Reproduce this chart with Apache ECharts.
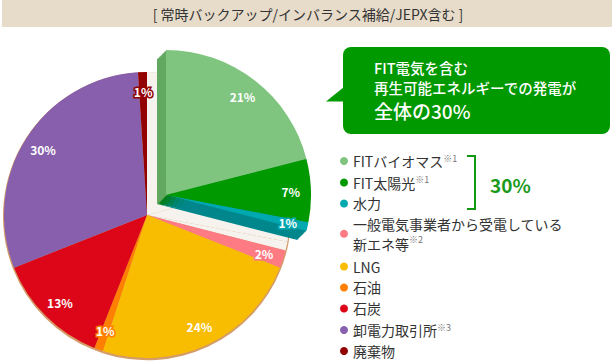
<!DOCTYPE html>
<html><head><meta charset="utf-8">
<script src="https://cdn.jsdelivr.net/npm/echarts@6/dist/echarts.min.js"></script>
<style>html,body{margin:0;padding:0;background:#fff}#c{width:612px;height:362px}</style>
</head><body><div id="c"></div>
<script>
const categories = ['FITバイオマス','FIT太陽光','水力','一般電気事業者から受電している\n新エネ等','LNG','石油','石炭','卸電力取引所','廃棄物'];
const shares = [21, 7, 1, 2, 24, 1, 13, 30, 1];
const footnotes = ['※1','※1','','※2','','','','※3',''];
const explodedCount = 3;
const faceColors = ['#7fc57f','#009900','#00a8b0','#ff7b84','#f8bc00','#ff7f00','#dc0618','#875fac','#920000'];
const sideColors = ['#62a862','#007d00','#00878c'];
const headerText = '[ 常時バックアップ/インバランス補給/JEPX含む ]';
const calloutLines = ['FIT電気を含む','再生可能エネルギーでの発電が','全体の30%'];
const bracketText = '30%';

const FONT = '"Noto Sans CJK JP","Noto Sans",sans-serif';
const CREAM = '#f6f3ee';
const mainC = [147,215], mainR = 143;
const frontC = [166,195], backC = [157,204], expR = 145;

function pieBase(center, radius, extra){
  return Object.assign({
    type:'pie', center:center, radius:radius, startAngle:90, clockwise:true,
    silent:true, animation:false, label:{show:false}, labelLine:{show:false},
    emphasis:{disabled:true}, itemStyle:{borderWidth:0}
  }, extra||{});
}
const isExp = i => i < explodedCount;
const series = [];
series.push(pieBase([147,216.2], mainR+1, {
  data: shares.map((v,i)=>({name:categories[i], value:v, itemStyle:{color:'#d49c68'}}))
}));
series.push(pieBase(mainC, mainR, {
  data: shares.map((v,i)=>({name:categories[i], value:v, itemStyle:{color: isExp(i)?CREAM:faceColors[i]}}))
}));
const N = 10;
for(let t=0;t<N;t++){
  const cx = backC[0] + (frontC[0]-backC[0])*t/N;
  const cy = backC[1] + (frontC[1]-backC[1])*t/N;
  series.push(pieBase([cx,cy], expR, {
    data: shares.map((v,i)=>({name:categories[i], value:v, itemStyle:{color: isExp(i)?sideColors[i]:'transparent'}}))
  }));
}
series.push(pieBase(frontC, expR, {
  data: shares.map((v,i)=>({name:categories[i], value:v, itemStyle:{color: isExp(i)?faceColors[i]:'transparent'}}))
}));
function labelRing(center, r, showFn){
  return pieBase(center, [r*0.68, r], {
    z: 5,
    data: shares.map((v,i)=>({name:categories[i], value:v,
      itemStyle:{color:'transparent'},
      label:{show: showFn(i), position:'inside', formatter: v+'%', color:'#fff', fontSize:12, fontWeight:'bold',
             fontFamily:FONT, textBorderColor: faceColors[i], textBorderWidth:3}}))
  });
}
series.push(labelRing(mainC, mainR, i=>!isExp(i)));
series.push(labelRing(frontC, expR, i=>isExp(i)));

const legendData = categories.map((n,i)=>({name:n, itemStyle:{color:faceColors[i]}}));

const richStyles = {
  a:{fontSize:14, lineHeight:15, color:'#333', fontFamily:FONT},
  b:{fontSize:14, lineHeight:20.5, color:'#333', fontFamily:FONT},
  s:{fontSize:9, lineHeight:15, verticalAlign:'top', color:'#777', fontFamily:FONT},
  t:{fontSize:9, lineHeight:20.5, verticalAlign:'top', color:'#777', fontFamily:FONT, padding:[1,0,0,0]}
};
function legendFormatter(name){
  const i = categories.indexOf(name);
  const lines = name.split('\n');
  const multi = lines.length>1;
  const st = multi?'b':'a', sst = multi?'t':'s';
  return lines.map((l,k)=>{
    let s = '{'+st+'|'+l+'}';
    if(k===lines.length-1 && footnotes[i]) s += '{'+sst+'|'+footnotes[i]+'}';
    return s;
  }).join('\n');
}
function makeLegend(top, items){
  return {
    orient:'vertical', left:340, top:top, itemGap:7, itemWidth:8, itemHeight:8, icon:'circle',
    selectedMode:false, data: items, padding:0,
    textStyle:{fontFamily:FONT, color:'#333', rich:richStyles},
    formatter: legendFormatter
  };
}

const option = {
  animation:false,
  series: series,
  legend: [
    makeLegend(153.5, legendData.slice(0,3)),
    makeLegend(216.5, legendData.slice(3,4)),
    makeLegend(259.5, legendData.slice(4))
  ],
  graphic: [
    {type:'rect', shape:{x:2,y:0,width:610,height:27}, style:{fill:'#e7dbca'}, silent:true},
    {type:'text', x:308, y:14, style:{text:headerText, fill:'#333', fontSize:14, fontFamily:FONT, textAlign:'center', textVerticalAlign:'middle'}, silent:true},
    {type:'rect', shape:{x:343,y:47,width:267,height:87,r:8}, style:{fill:'#009900'}, silent:true},
    {type:'polygon', shape:{points:[[344,87],[326,101.5],[344,101.5]]}, style:{fill:'#009900'}, silent:true},
    {type:'text', x:374, y:67, style:{text:calloutLines[0], fill:'#fff', fontSize:14.5, fontWeight:500, fontFamily:FONT, textVerticalAlign:'middle'}, silent:true},
    {type:'text', x:374, y:87, style:{text:calloutLines[1], fill:'#fff', fontSize:14.5, fontWeight:500, fontFamily:FONT, textVerticalAlign:'middle'}, silent:true},
    {type:'text', x:374, y:110, style:{text:calloutLines[2], fill:'#fff', fontSize:19, fontWeight:500, fontFamily:FONT, textVerticalAlign:'middle'}, silent:true},
    {type:'polyline', shape:{points:[[467,156],[475,156],[475,209],[467,209]]}, style:{stroke:'#119911', lineWidth:2, fill:null}, silent:true},
    {type:'text', x:490, y:184, style:{text:bracketText, fill:'#1a9a1a', fontSize:19, fontWeight:'bold', fontFamily:FONT, textVerticalAlign:'middle'}, silent:true}
  ]
};
const chart = echarts.init(document.getElementById('c'), null, {renderer:'svg'});
chart.setOption(option);
</script></body></html>
